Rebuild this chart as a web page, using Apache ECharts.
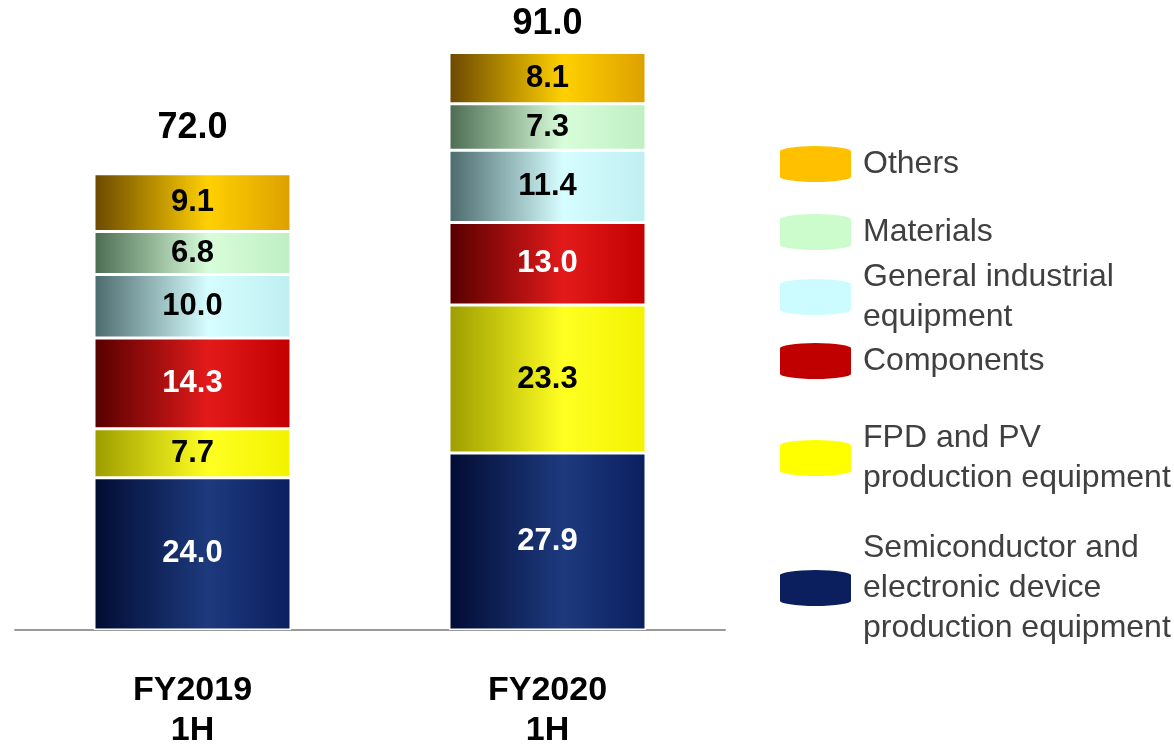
<!DOCTYPE html>
<html>
<head>
<meta charset="utf-8">
<script src="https://cdn.jsdelivr.net/npm/echarts@6/dist/echarts.min.js"></script>
<style>
  html, body { margin: 0; padding: 0; background: #fff; }
  #chart { width: 1174px; height: 744px; }
</style>
</head>
<body>
<div id="chart"></div>
<script>
// data, bottom segment first
const categories = ['FY2019\n1H', 'FY2020\n1H'];
const seriesNames = [
    'Semiconductor and electronic device production equipment',
    'FPD and PV production equipment',
    'Components',
    'General industrial equipment',
    'Materials',
    'Others'
];
const semiconductor = [24.0, 27.9];
const fpdPv = [7.7, 23.3];
const components = [14.3, 13.0];
const generalIndustrial = [10.0, 11.4];
const materials = [6.8, 7.3];
const others = [9.1, 8.1];
const totals = [72.0, 91.0];

const seriesValues = [semiconductor, fpdPv, components, generalIndustrial, materials, others];

// styles
const FONT = '"Liberation Sans", Arial, sans-serif';
const grads = [
    ['#020c33', '#1d3a7e', '#0b1f5e'],
    ['#9c9c00', '#ffff22', '#f2f200'],
    ['#560000', '#e31a1a', '#c20000'],
    ['#4b6a6c', '#d6fdff', '#bfeff1'],
    ['#4c6c52', '#d8fdda', '#bfefc3'],
    ['#6b4800', '#ffd000', '#dda000']
];
const legendColors = ['#0b1f5e', '#ffff00', '#c00000', '#ccfcff', '#ccfccc', '#ffc000'];
const labelColors = ['#fff', '#000', '#fff', '#000', '#000', '#000'];
const legendText = [
    'Semiconductor and\nelectronic device\nproduction equipment',
    'FPD and PV\nproduction equipment',
    'Components',
    'General industrial\nequipment',
    'Materials',
    'Others'
];
const legendTop = [528, 418, 341, 257, 212, 144];
const totalGap = [28, 10];

const cylinder = 'path://M0,6 A36.5,6 0 0 1 73,6 L73,32 A36.5,6 0 0 1 0,32 Z';

let series = seriesNames.map((name, i) => ({
    name: name,
    type: 'bar',
    stack: 'total',
    barWidth: 197,
    data: seriesValues[i],
    itemStyle: {
        color: new echarts.graphic.LinearGradient(0, 0, 1, 0, [
            { offset: 0, color: grads[i][0] },
            { offset: 0.58, color: grads[i][1] },
            { offset: 1, color: grads[i][2] }
        ]),
        borderColor: '#fff',
        borderWidth: 1.5
    },
    label: {
        show: true,
        position: 'inside',
        color: labelColors[i],
        fontFamily: FONT,
        fontWeight: 'bold',
        fontSize: 31,
        formatter: p => p.value.toFixed(1)
    },
    emphasis: { disabled: true }
}));

// totals on top of the stack
series.push({
    name: 'Total',
    type: 'bar',
    stack: 'total',
    barWidth: 197,
    data: totals.map((t, i) => ({
        value: 0,
        label: { distance: totalGap[i] }
    })),
    itemStyle: { color: 'transparent', borderWidth: 0 },
    label: {
        show: true,
        position: 'top',
        color: '#000',
        fontFamily: FONT,
        fontWeight: 'bold',
        fontSize: 36,
        formatter: p => totals[p.dataIndex].toFixed(1)
    },
    emphasis: { disabled: true }
});

const legends = seriesNames.map((name, i) => ({
    data: [{ name: name, itemStyle: { color: legendColors[i] } }],
    left: 778,
    top: legendTop[i],
    padding: 0,
    selectedMode: false,
    icon: cylinder,
    itemWidth: 73,
    itemHeight: 38,
    formatter: () => legendText[i],
    textStyle: {
        color: '#404040',
        fontFamily: FONT,
        fontSize: 32,
        lineHeight: 40,
        padding: [0, 0, 0, 6]
    }
}));

const chart = echarts.init(document.getElementById('chart'));
chart.setOption({
    animation: false,
    backgroundColor: '#fff',
    legend: legends,
    grid: { left: 15, right: 449, top: 8, bottom: 114, outerBoundsMode: 'none' },
    xAxis: {
        type: 'category',
        data: categories,
        axisLine: { show: true, lineStyle: { color: '#9a9a9a', width: 2 } },
        axisTick: { show: false },
        axisLabel: {
            color: '#000',
            fontFamily: FONT,
            fontWeight: 'bold',
            fontSize: 34,
            lineHeight: 40,
            margin: 41
        }
    },
    yAxis: {
        type: 'value',
        min: 0,
        max: 98,
        show: false,
        splitLine: { show: false }
    },
    series: series
});
</script>
</body>
</html>
